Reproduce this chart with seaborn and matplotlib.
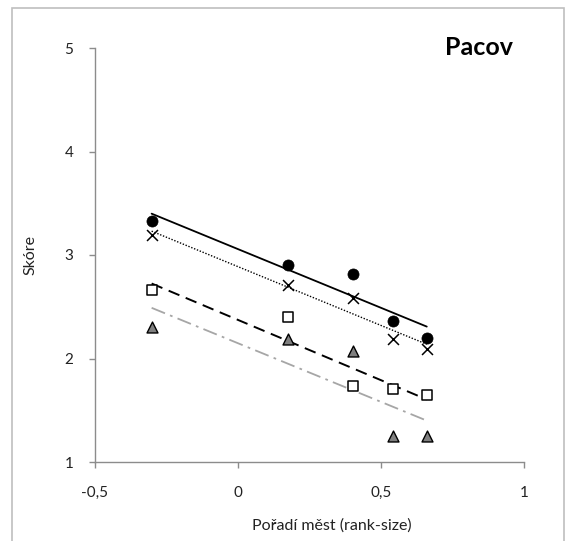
import matplotlib
matplotlib.use("Agg")
import matplotlib.pyplot as plt
from matplotlib.patches import Rectangle
from matplotlib.ticker import FixedLocator, FuncFormatter
import seaborn as sns
import pandas as pd

# rank-size position of each town
rank_size = [-0.302, 0.174, 0.401, 0.543, 0.660]

# scores of the four indicators
score_circle = [3.33, 2.90, 2.82, 2.36, 2.20]
score_cross = [3.19, 2.71, 2.58, 2.19, 2.09]
score_square = [2.66, 2.40, 1.73, 1.705, 1.65]
score_triangle = [2.30, 2.19, 2.075, 1.25, 1.25]

x_ticks = [-0.5, 0, 0.5, 1]
y_ticks = [1, 2, 3, 4, 5]

title = "Pacov"
x_label = "Pořadí měst (rank-size)"
y_label = "Skóre"

sns.set_style("white")
plt.rcParams["font.family"] = ["Lato", "DejaVu Sans"]

fig = plt.figure(figsize=(5.65, 5.41), dpi=100)
ax = fig.add_axes([95 / 565, 1 - 462 / 541, (524 - 95) / 565, (462 - 48) / 541])

df = pd.DataFrame({
    "x": rank_size,
    "circle": score_circle,
    "cross": score_cross,
    "square": score_square,
    "triangle": score_triangle,
})

# linear trend lines
trend_styles = {
    "circle": dict(color="black", lw=1.3, ls="-"),
    "cross": dict(color="black", lw=1.0, ls=(0, (1, 1.2))),
    "square": dict(color="black", lw=1.4, ls=(0, (6, 3.5))),
    "triangle": dict(color="#a6a6a6", lw=1.3, ls=(0, (8, 3, 1.5, 3))),
}
for col, kw in trend_styles.items():
    sns.regplot(data=df, x="x", y=col, ax=ax, ci=None, scatter=False,
                truncate=True, line_kws=kw)

# data points
sns.scatterplot(data=df, x="x", y="circle", ax=ax, marker="o", s=64,
                color="black", edgecolor="black", linewidth=0.5, zorder=5)
sns.scatterplot(data=df, x="x", y="cross", ax=ax, marker="x", s=62,
                color="black", linewidth=1.1, zorder=5)
sns.scatterplot(data=df, x="x", y="square", ax=ax, marker="s", s=62,
                color="white", edgecolor="black", linewidth=1.1, zorder=5)
sns.scatterplot(data=df, x="x", y="triangle", ax=ax, marker="^", s=62,
                color="#7f7f7f", edgecolor="black", linewidth=1.0, zorder=5)

ax.set_xlim(-0.5, 1)
ax.set_ylim(1, 5)
ax.xaxis.set_major_locator(FixedLocator(x_ticks))
ax.yaxis.set_major_locator(FixedLocator(y_ticks))
comma = FuncFormatter(lambda v, p: f"{v:g}".replace(".", ","))
ax.xaxis.set_major_formatter(comma)
ax.yaxis.set_major_formatter(comma)

for side in ("top", "right"):
    ax.spines[side].set_visible(False)
for side in ("left", "bottom"):
    ax.spines[side].set_color("#8c8c8c")
    ax.spines[side].set_linewidth(1.0)
ax.tick_params(axis="both", which="major", direction="out", length=4.5,
               width=1.0, color="#8c8c8c", labelsize=11,
               labelcolor="#222222", left=True, bottom=True)
ax.tick_params(axis="y", pad=11)
ax.tick_params(axis="x", pad=13)

ax.set_xlabel(x_label, fontsize=11.5, color="#222222")
ax.set_ylabel(y_label, fontsize=11.5, color="#222222")
ax.xaxis.set_label_coords(0.553, -0.135)
ax.yaxis.set_label_coords(-0.135, 0.5)

ax.text(0.975, 1.03, title, transform=ax.transAxes, ha="right", va="top",
        fontsize=18, fontweight="bold", color="black")

# outer chart frame
fig.add_artist(Rectangle((12 / 565, -0.05), (564 - 12) / 565, 1.05 - 8 / 541,
                         transform=fig.transFigure, fill=False,
                         edgecolor="#bfbfbf", linewidth=1.2))

fig.savefig("out.png", dpi=100)
